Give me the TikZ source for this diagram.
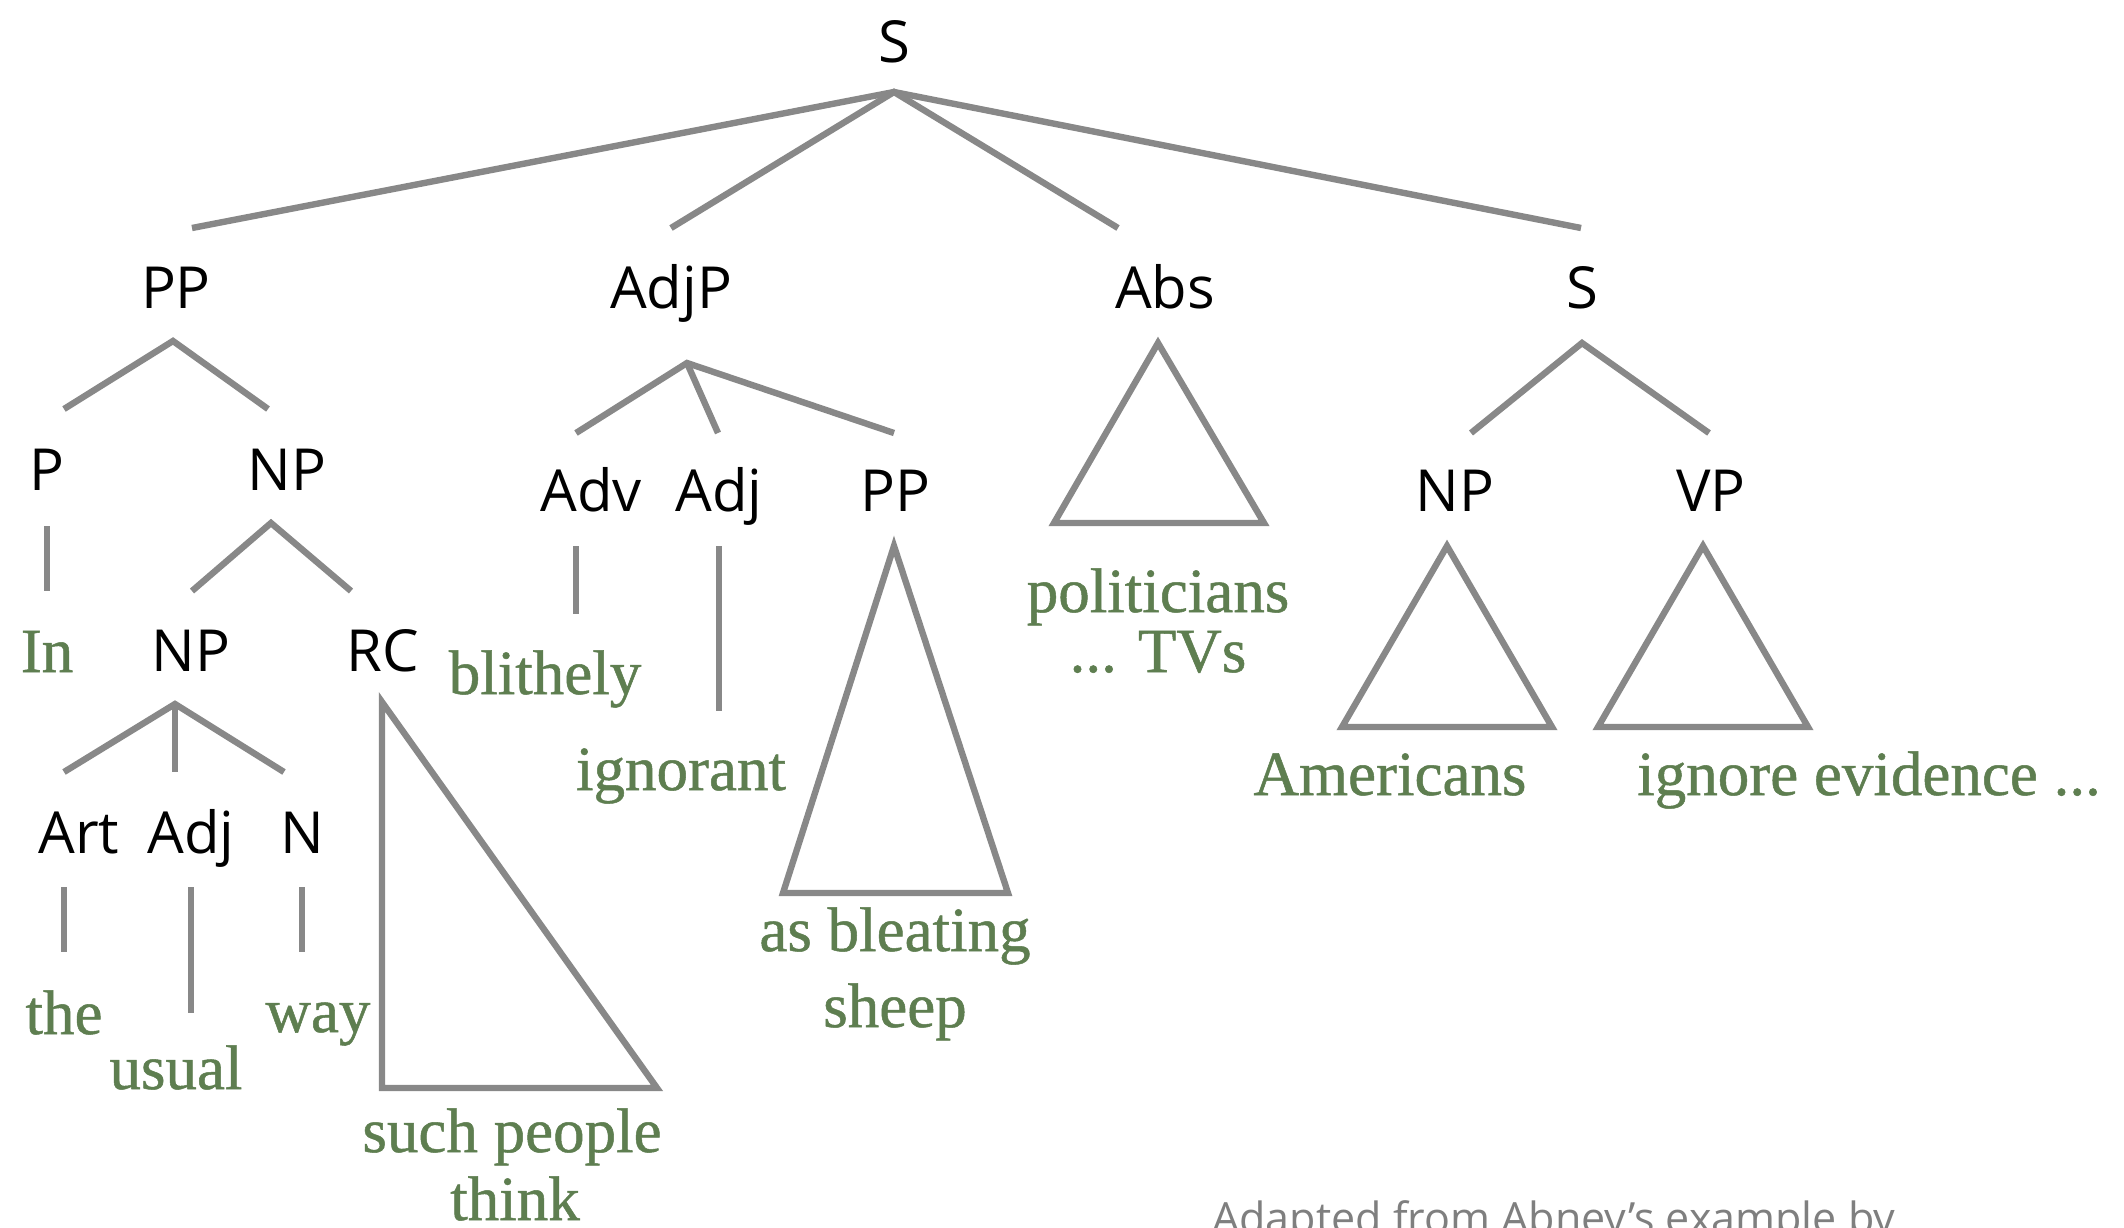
\documentclass[tikz,border=0pt]{standalone}
\usepackage{fontspec}
\setmainfont{Liberation Serif}
\newfontfamily\wordfont[FakeBold=0.8]{Liberation Serif}
\newfontfamily\labfont{Open Sans}
\definecolor{linegray}{HTML}{888888}
\definecolor{wordgreen}{HTML}{5E7E50}
\definecolor{notegray}{HTML}{7F7F7F}
\begin{document}
\begin{tikzpicture}[x=0.5pt,y=-0.5pt,
  cat/.style={font=\labfont\fontsize{29}{34}\selectfont, text=black, anchor=base, inner sep=0pt},
  word/.style={font=\wordfont\fontsize{31.5}{36}\selectfont, text=wordgreen, anchor=base, inner sep=0pt},
  branch/.style={draw=linegray, line width=3.2pt},
  tri/.style={draw=linegray, line width=3.2pt, line join=miter}]
\clip (0,0) rectangle (2124,1227);
\fill[white] (0,0) rectangle (2124,1227);

% root
\node[cat] (s0) at (894,62) {S};
\coordinate (s0a) at (894,92);
\coordinate (s0e1) at (192,228);
\coordinate (s0e2) at (671,228);
\coordinate (s0e3) at (1118,228);
\coordinate (s0e4) at (1581,228);
\draw[branch] (s0e1) -- (s0a) -- (s0e4);
\draw[branch] (s0e2) -- (s0a) -- (s0e3);

% level 1
\node[cat] (pp1) at (176,308) {PP};
\node[cat] (adjp) at (671,308) {AdjP};
\node[cat] (abs) at (1165,308) {Abs};
\node[cat] (s1) at (1582,308) {S};

% PP subtree
\coordinate (ppa) at (173,341);
\coordinate (ppe1) at (64,409);
\coordinate (ppe2) at (268,409);
\draw[branch] (ppe1) -- (ppa) -- (ppe2);
\node[cat] (p) at (47,490) {P};
\node[cat] (np1) at (287,490) {NP};
\coordinate (pt) at (47,526);
\coordinate (pb) at (47,591);
\draw[branch] (pt) -- (pb);
\node[word] (in) at (47,672) {In};
\coordinate (np1a) at (271,523);
\coordinate (np1e1) at (192,591);
\coordinate (np1e2) at (351,591);
\draw[branch] (np1e1) -- (np1a) -- (np1e2);
\node[cat] (np2) at (191,671) {NP};
\node[cat] (rc) at (383,671) {RC};
\coordinate (np2a) at (175,704);
\coordinate (np2e1) at (64,772);
\coordinate (np2e2) at (175,772);
\coordinate (np2e3) at (284,772);
\draw[branch] (np2e1) -- (np2a) -- (np2e3);
\draw[branch] (np2a) -- (np2e2);
\node[cat] (art) at (79,853) {Art};
\node[cat] (adj1) at (191,853) {Adj};
\node[cat] (n) at (302,853) {N};
\coordinate (artt) at (64,887);
\coordinate (artb) at (64,952);
\coordinate (adj1t) at (191,887);
\coordinate (adj1b) at (191,1013);
\coordinate (nt) at (302,887);
\coordinate (nb) at (302,952);
\draw[branch] (artt) -- (artb);
\draw[branch] (adj1t) -- (adj1b);
\draw[branch] (nt) -- (nb);
\node[word] (the) at (64,1034) {the};
\node[word] (usual) at (176,1089) {usual};
\node[word] (way) at (318,1032) {way};
\coordinate (rct) at (382,702);
\coordinate (rcl) at (382,1088);
\coordinate (rcr) at (657,1088);
\draw[tri] (rct) -- (rcl) -- (rcr) -- cycle;
\node[word] (such) at (512,1152) {such people};
\node[word] (think) at (515,1220) {think};

% AdjP subtree
\coordinate (adjpa) at (687,363);
\coordinate (adjpe1) at (576,433);
\coordinate (adjpe2) at (718,433);
\coordinate (adjpe3) at (894,433);
\draw[branch] (adjpe1) -- (adjpa) -- (adjpe3);
\draw[branch] (adjpa) -- (adjpe2);
\node[cat] (adv) at (591,511) {Adv};
\node[cat] (adj2) at (719,511) {Adj};
\node[cat] (pp2) at (895,511) {PP};
\coordinate (advt) at (576,546);
\coordinate (advb) at (576,614);
\draw[branch] (advt) -- (advb);
\node[word] (blithely) at (545,694) {blithely};
\coordinate (adj2t) at (719,546);
\coordinate (adj2b) at (719,711);
\draw[branch] (adj2t) -- (adj2b);
\node[word] (ignorant) at (681,790) {ignorant};
\coordinate (pp2t) at (894,546);
\coordinate (pp2l) at (783,893);
\coordinate (pp2r) at (1008,893);
\draw[tri] (pp2t) -- (pp2l) -- (pp2r) -- cycle;
\node[word] (asbleat) at (895,951) {as bleating};
\node[word] (sheep) at (895,1027) {sheep};

% Abs
\coordinate (abst) at (1158,343);
\coordinate (absl) at (1054,523);
\coordinate (absr) at (1264,523);
\draw[tri] (abst) -- (absl) -- (absr) -- cycle;
\node[word] (polit) at (1158,612) {politicians};
\node[word] (tvs) at (1158,672) {... TVs};

% S subtree
\coordinate (s1a) at (1582,343);
\coordinate (s1e1) at (1471,433);
\coordinate (s1e2) at (1709,433);
\draw[branch] (s1e1) -- (s1a) -- (s1e2);
\node[cat] (np3) at (1455,511) {NP};
\node[cat] (vp) at (1711,511) {VP};
\coordinate (np3t) at (1447,546);
\coordinate (np3l) at (1342,727);
\coordinate (np3r) at (1552,727);
\draw[tri] (np3t) -- (np3l) -- (np3r) -- cycle;
\coordinate (vpt) at (1703,546);
\coordinate (vpl) at (1598,727);
\coordinate (vpr) at (1808,727);
\draw[tri] (vpt) -- (vpl) -- (vpr) -- cycle;
\node[word] (americans) at (1390,795) {Americans};
\node[word] (ignore) at (1869,795) {ignore evidence ...};

% footer
\node[font=\labfont\fontsize{21.5}{26}\selectfont, text=notegray, anchor=base west, inner sep=0pt] (note) at (1212,1233) {Adapted from Abney’s example by};
\end{tikzpicture}
\end{document}
